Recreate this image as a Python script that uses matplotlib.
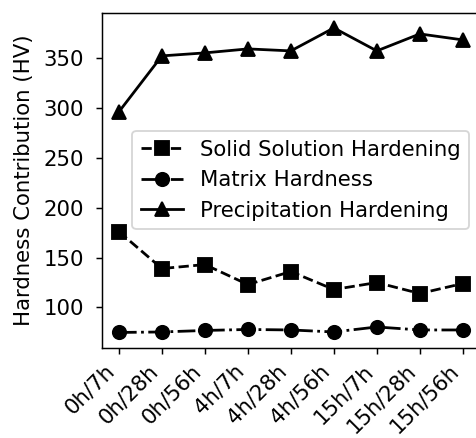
import matplotlib
matplotlib.use("Agg")
import matplotlib.pyplot as plt

conditions = ['0h/7h', '0h/28h', '0h/56h', '4h/7h', '4h/28h', '4h/56h',
              '15h/7h', '15h/28h', '15h/56h']
solid_solution = [176, 139, 143, 123, 136, 118, 125, 114, 124]
matrix_hardness = [75, 75.5, 77, 78, 77.5, 75.5, 80.5, 77.5, 77.5]
precipitation = [296, 352, 355, 359, 357, 380, 357, 374, 368]


def main():
    plt.rcParams['font.size'] = 11.5
    plt.rcParams['lines.markersize'] = 7.2
    plt.rcParams['ytick.major.pad'] = 6

    dpi = 133
    fig = plt.figure(figsize=(476 / dpi, 438 / dpi), dpi=dpi)
    ax = fig.add_axes([0.2137, 0.2062, 0.7947, 0.7648])

    x = range(len(conditions))
    ax.plot(x, solid_solution, 'ks--', label='Solid Solution Hardening')
    ax.plot(x, matrix_hardness, 'ko-.', label='Matrix Hardness')
    ax.plot(x, precipitation, 'k^-', label='Precipitation Hardening')

    ax.set_xticks(list(x))
    ax.set_xticklabels(conditions, rotation=45, ha='right')
    ax.set_ylabel('Hardness Contribution (HV)', labelpad=5.5)
    ax.legend(loc='center right')

    fig.savefig('out.png', dpi=dpi)


if __name__ == "__main__":
    main()
